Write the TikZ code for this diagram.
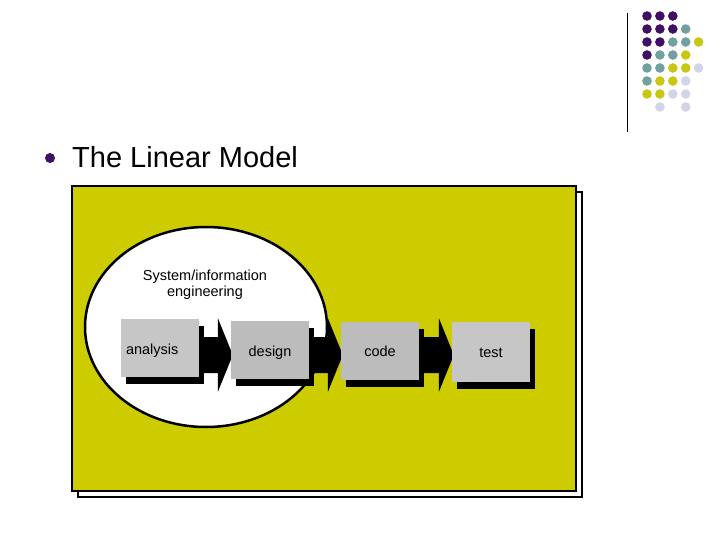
\documentclass[tikz,border=0pt]{standalone}
\usepackage{fontspec}
\setmainfont{Liberation Sans}
\usetikzlibrary{shadows}

\definecolor{panelyellow}{RGB}{204,204,0}
\definecolor{dotpurple}{RGB}{64,16,100}
\definecolor{dotteal}{RGB}{112,160,160}
\definecolor{dotyellow}{RGB}{200,200,20}
\definecolor{dotlilac}{RGB}{212,212,232}
\definecolor{stagegray}{RGB}{198,198,198}
\definecolor{stagedark}{RGB}{188,188,188}

\pgfdeclarelayer{back}
\pgfdeclarelayer{flow}
\pgfsetlayers{back,flow,main}

% block arrow from the box #1 to the box #2, along the row line
\newcommand{\stagearrow}[2]{%
  \coordinate (s) at (#1.east |- row);
  \coordinate (t) at (#2.west |- row);
  \fill ([yshift=18pt]s) -- ([xshift=-13pt,yshift=18pt]t) -- ([xshift=-13pt,yshift=37pt]t)
    -- ([xshift=2pt]t) -- ([xshift=-13pt,yshift=-37pt]t) -- ([xshift=-13pt,yshift=-18pt]t)
    -- ([yshift=-18pt]s) -- cycle;
}

\begin{document}
\begin{tikzpicture}[x=1pt,y=-1pt,
    stagebox/.style={fill=stagegray, minimum width=78pt, minimum height=58pt, inner sep=5pt,
      font=\fontsize{14.5}{16}\selectfont,
      drop shadow={shadow xshift=5pt, shadow yshift=-7pt, fill=black, opacity=1}},
    dotP/.style={fill=dotpurple}, dotT/.style={fill=dotteal},
    dotY/.style={fill=dotyellow}, dotL/.style={fill=dotlilac}, dotN/.style={fill=none}]

    \useasboundingbox (0,0) rectangle (720,540);

    \begin{pgfonlayer}{back}
        \fill[white] (0,0) rectangle (720,540);

        % the dot pattern in the top right corner
        \draw[line width=1pt] (627,13) -- (627,132);
        \foreach \r/\cols in {0/{P,P,P},1/{P,P,P,T},2/{P,P,T,T,Y},3/{P,T,T,Y},
                              4/{T,T,Y,Y,L},5/{T,Y,Y,L},6/{Y,Y,L,L},7/{N,L,N,L}}
            \foreach \c [count=\j from 0] in \cols
                \fill[dot\c] (647+12.9*\j, 16+13*\r) circle (4.8pt);

        % bullet and title
        \fill[dotpurple] (50,158) circle (5pt);
        \node[anchor=base west, inner sep=0pt, font=\fontsize{29}{32}\selectfont] (title) at (72,168) {The Linear Model};

        % the yellow panel with its framed shadow
        \draw[line width=1.6pt, fill=white] (78,192) rectangle (582,497);
        \draw[line width=2pt, fill=panelyellow] (72,186) rectangle (576,491);

        % the white ellipse of system engineering
        \draw[line width=2.5pt, fill=white] (206,327) ellipse (121pt and 100pt);
        \node[align=center, font=\fontsize{14.5}{16}\selectfont] (sysinfo) at (205,285) {System/information\\engineering};
    \end{pgfonlayer}

    % the four stages
    \node[stagebox, text width=67pt, align=left, text height=17pt] (analysis) at (159.5,348) {analysis};
    \node[stagebox, fill=stagedark, text height=17pt] (design) at (270,349.5) {design};
    \node[stagebox, fill=stagedark, text height=12pt] (code) at (380,351) {code};
    \node[stagebox, minimum height=60pt, text height=12pt] (test) at (491,352) {test};

    % block arrows between the stages
    \coordinate (row) at (0,355);
    \begin{pgfonlayer}{flow}
        \stagearrow{analysis}{design}
        \stagearrow{design}{code}
        \stagearrow{code}{test}
    \end{pgfonlayer}

\end{tikzpicture}
\end{document}
